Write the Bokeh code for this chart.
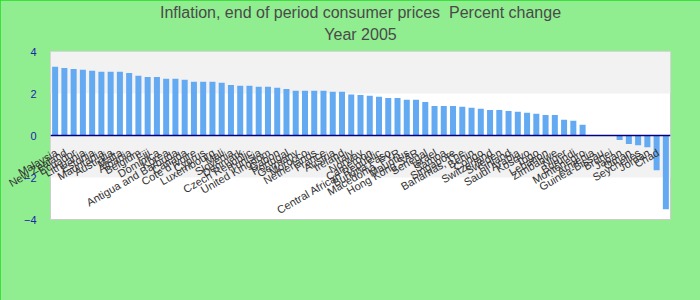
import math
from bokeh.plotting import figure
from bokeh.models import (Span, BoxAnnotation, FixedTicker, Title, Range1d,
                          LinearAxis, ColumnDataSource)
from bokeh.embed import file_html
from bokeh.resources import INLINE

title_line1 = "Inflation, end of period consumer prices\u00a0 Percent change"
title_line2 = "Year 2005"

countries = [
    "Equatorial Guinea", "Malaysia", "New Zealand", "Ecuador", "Lithuania", "Estonia",
    "Mauritania", "Australia", "Malta", "Albania", "Belgium", "Fiji", "Dominica",
    "Korea", "Antigua and Barbuda", "Canada", "Cote d'Ivoire", "Cyprus",
    "Luxembourg", "Mali", "Slovenia", "Denmark", "Czech Republic", "Tunisia",
    "United Kingdom", "Gabon", "Portugal", "Germany", "Morocco", "Netherlands",
    "France", "Austria", "Ireland", "Italy", "Norway", "Cameroon",
    "Central African Republic", "Burkina Faso", "Macedonia, FYR", "Mauritius",
    "Hong Kong SAR", "Senegal", "Israel", "Samoa", "Singapore", "Bahamas, The",
    "Benin", "Congo", "Switzerland", "Sweden", "Finland", "Saudi Arabia",
    "Kosovo", "Togo", "Lebanon", "Zimbabwe", "Niger", "Burundi", "Montenegro",
    "Armenia", "Guinea-Bissau", "Brunei", "Japan", "Oman", "Seychelles",
    "Jordan", "Chad",
]
inflation = [
    3.27, 3.22, 3.17, 3.13, 3.08, 3.03, 3.03, 3.03, 2.98, 2.84, 2.79, 2.79,
    2.70, 2.70, 2.65, 2.56, 2.56, 2.56, 2.51, 2.41, 2.37, 2.37, 2.32, 2.32,
    2.27, 2.22, 2.13, 2.13, 2.13, 2.13, 2.08, 2.08, 1.95, 1.93, 1.89, 1.84,
    1.79, 1.79, 1.70, 1.70, 1.60, 1.41, 1.41, 1.41, 1.37, 1.32, 1.27, 1.22,
    1.22, 1.17, 1.13, 1.08, 1.03, 0.98, 0.98, 0.75, 0.70, 0.51, 0.0, 0.0,
    0.0, -0.22, -0.41, -0.46, -0.56, -1.65, -3.51,
]
y_ticks = [-4, -2, 0, 2, 4]

n = len(countries)
pos = [i + 0.5 for i in range(n)]  # slot centre of each category
src = ColumnDataSource(dict(pos=pos, country=countries, inflation=inflation))

p = figure(width=700, height=300, output_backend="svg", toolbar_location=None,
           x_range=Range1d(0, n), y_range=Range1d(-4, 4), x_axis_location=None,
           min_border_left=50, min_border_right=30, min_border_top=51,
           min_border_bottom=81)
p.title.visible = False
# spacer between the frame and the subtitle
p.add_layout(Title(text=" ", text_font_size="6px", standoff=0), "above")
p.add_layout(Title(text=title_line2, align="center", text_font="Liberation Sans",
                   text_font_size="16px", text_font_style="normal",
                   text_color="#4a4a4a", standoff=2), "above")
p.add_layout(Title(text=title_line1, align="center", text_font="Liberation Sans",
                   text_font_size="16px", text_font_style="normal",
                   text_color="#4a4a4a", standoff=3), "above")

p.border_fill_color = "#90ee90"
p.background_fill_color = "white"
p.outline_line_color = "#cccccc"
p.styles = {"outline": "2px solid #22dd22", "outline-offset": "-2px"}

p.add_layout(BoxAnnotation(bottom=2, top=4, fill_color="#f2f2f2", fill_alpha=1, line_color=None, level="underlay"))
p.add_layout(BoxAnnotation(bottom=-2, top=0, fill_color="#f2f2f2", fill_alpha=1, line_color=None, level="underlay"))

p.vbar(x="pos", top="inflation", source=src, width=0.65, fill_color="#63aaf2", line_color=None)

p.add_layout(Span(location=0, dimension="width", line_color="#000080", line_width=1.5))

# category labels drawn by an axis (not clipped), slightly shifted left of each bar
shift = 0.85
p.extra_x_ranges = {"lbl": Range1d(start=shift, end=n + shift)}
lab_axis = LinearAxis(x_range_name="lbl", ticker=FixedTicker(ticks=pos),
                      major_label_overrides={t: c for t, c in zip(pos, countries)},
                      major_label_orientation=math.pi / 6,
                      major_label_standoff=-74,
                      axis_line_color=None, major_tick_line_color=None,
                      minor_tick_line_color=None,
                      major_label_text_font="Liberation Sans",
                      major_label_text_font_size="11px",
                      major_label_text_color="#333333")
p.add_layout(lab_axis, "below")

p.ygrid.visible = False
p.xgrid.visible = False
p.yaxis.ticker = FixedTicker(ticks=y_ticks)
p.yaxis.axis_line_color = None
p.yaxis.major_tick_line_color = None
p.yaxis.minor_tick_line_color = None
p.yaxis.major_label_standoff = 8
p.yaxis.major_label_text_color = "#2222aa"
p.yaxis.major_label_text_font = "Liberation Sans"
p.yaxis.major_label_text_font_size = "11px"

open("out.html", "w").write(file_html(p, INLINE))
